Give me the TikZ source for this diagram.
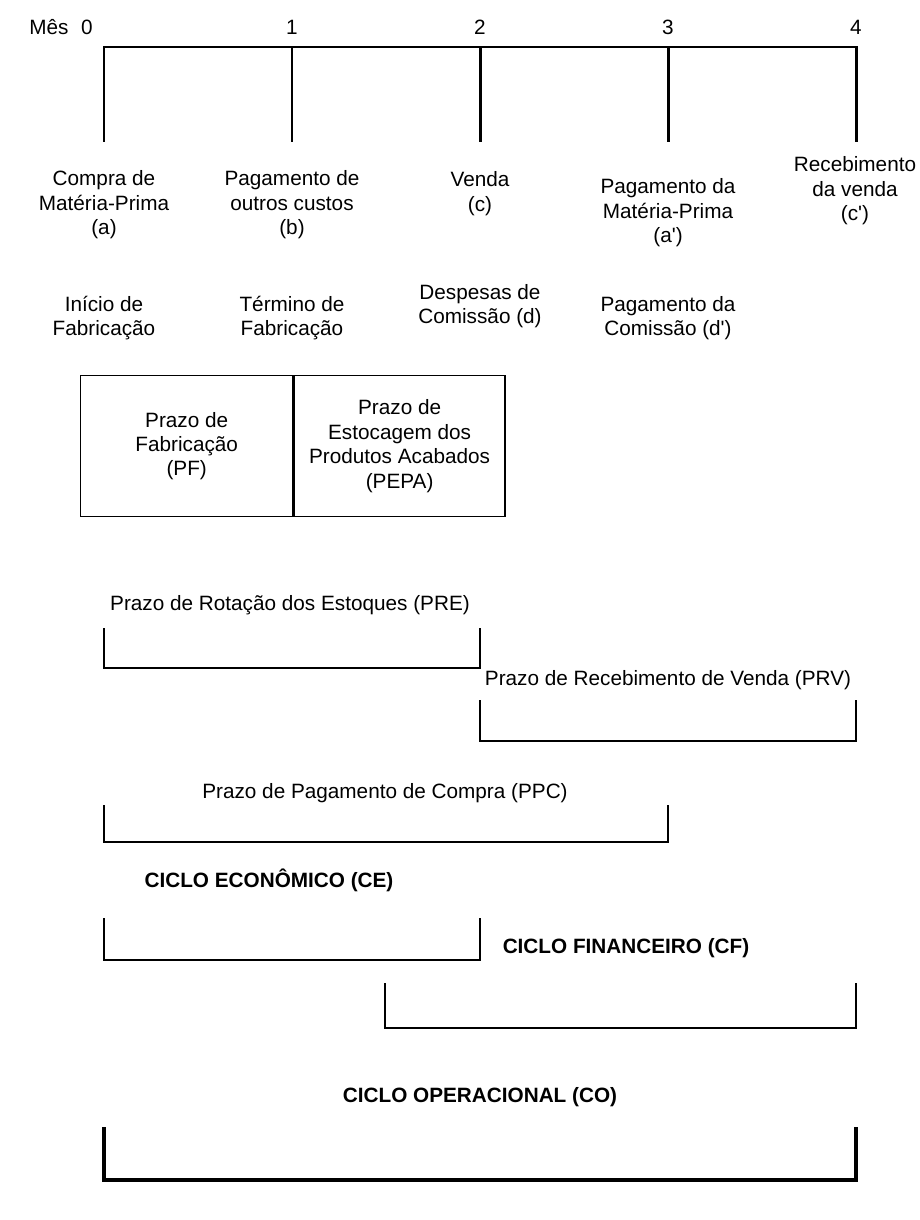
\documentclass[tikz,border=0pt]{standalone}
\usepackage{fontspec}
\setmainfont{Liberation Sans}
\usepackage{tikz}
\usetikzlibrary{positioning}

\begin{document}
\begin{tikzpicture}[x=1cm,y=1cm,
				every node/.style={font=\fontsize{11.8}{13.9}\selectfont,inner sep=1pt},
				lbl/.style={align=center},
				bold/.style={font=\fontsize{11.8}{13.9}\selectfont\bfseries},
				eixo/.style={line width=1.7pt},
				caixa/.style={draw,line width=0.8pt,align=center,inner sep=0pt,minimum height=2.82cm},
				colchete/.style={line width=1.2pt},
				grosso/.style={line width=2.8pt}]
				\useasboundingbox (0,0) rectangle (18.4,-24.4);
				% linha do tempo
				\node (mes) at (0.98,-0.54) {Mês};
				\foreach \i/\x in {0/2.08,1/5.84,2/9.6,3/13.36,4/17.12}{
					\coordinate (t\i) at (\x,-0.94);
					\coordinate (b\i) at (\x,-2.84);
				}
				\node (m0) at (1.74,-0.54) {0};
				\node (m1) at (5.84,-0.54) {1};
				\node (m2) at (9.6,-0.54) {2};
				\node (m3) at (13.36,-0.54) {3};
				\node (m4) at (17.12,-0.54) {4};
				\draw[eixo] (b0)--(t0)--(t4)--(b4);
				\draw[eixo] (t1)--(b1);
				\draw[eixo] (t2)--(b2);
				\draw[eixo] (t3)--(b3);
				% eventos
				\node[lbl] (a) at (2.08,-4.1) {Compra de\\Matéria-Prima\\(a)};
				\node[lbl] (b) at (5.84,-4.1) {Pagamento de\\outros custos\\(b)};
				\node[lbl] (c) at (9.6,-3.87) {Venda\\(c)};
				\node[lbl] (a2) at (13.36,-4.26) {Pagamento da\\Matéria-Prima\\(a\textquotesingle)};
				\node[lbl] (c2) at (17.1,-3.82) {Recebimento\\da venda\\(c\textquotesingle)};
				\node[lbl] (ini) at (2.08,-6.36) {Início de\\Fabricação};
				\node[lbl] (fim) at (5.84,-6.36) {Término de\\Fabricação};
				\node[lbl] (d) at (9.6,-6.12) {Despesas de\\Comissão (d)};
				\node[lbl] (d2) at (13.36,-6.36) {Pagamento da\\Comissão (d\textquotesingle)};
				% prazos
				\node[caixa,minimum width=4.24cm,anchor=north west] (pf) at (1.6,-7.5) {Prazo de\\Fabricação\\(PF)};
				\node[caixa,minimum width=4.22cm,right=0pt of pf] (pepa) {Prazo de\\Estocagem dos\\Produtos Acabados\\(PEPA)};
				\node (pre) at (5.8,-12.1) {Prazo de Rotação dos Estoques (PRE)};
				\coordinate (pre1) at (2.08,-12.56);
				\coordinate (pre2) at (9.6,-12.56);
				\draw[colchete] (pre1)|-(pre2 |- 0,-13.36)--(pre2);
				\node (prv) at (13.36,-13.6) {Prazo de Recebimento de Venda (PRV)};
				\coordinate (prv1) at (9.6,-14.0);
				\coordinate (prv2) at (17.12,-14.0);
				\draw[colchete] (prv1)|-(prv2 |- 0,-14.82)--(prv2);
				\node (ppc) at (7.7,-15.86) {Prazo de Pagamento de Compra (PPC)};
				\coordinate (ppc1) at (2.08,-16.1);
				\coordinate (ppc2) at (13.36,-16.1);
				\draw[colchete] (ppc1)|-(ppc2 |- 0,-16.84)--(ppc2);
				% ciclos
				\node[bold] (ce) at (5.38,-17.6) {CICLO ECONÔMICO (CE)};
				\coordinate (ce1) at (2.08,-18.36);
				\coordinate (ce2) at (9.6,-18.36);
				\draw[colchete] (ce1)|-(ce2 |- 0,-19.2)--(ce2);
				\node[bold] (cf) at (12.52,-18.96) {CICLO FINANCEIRO (CF)};
				\coordinate (cf1) at (7.7,-19.66);
				\coordinate (cf2) at (17.12,-19.66);
				\draw[colchete] (cf1)|-(cf2 |- 0,-20.56)--(cf2);
				\node[bold] (co) at (9.6,-21.94) {CICLO OPERACIONAL (CO)};
				\coordinate (co1) at (2.08,-22.54);
				\coordinate (co2) at (17.12,-22.54);
				\draw[grosso] (co1)|-(co2 |- 0,-23.6)--(co2);
			\end{tikzpicture}
\end{document}
